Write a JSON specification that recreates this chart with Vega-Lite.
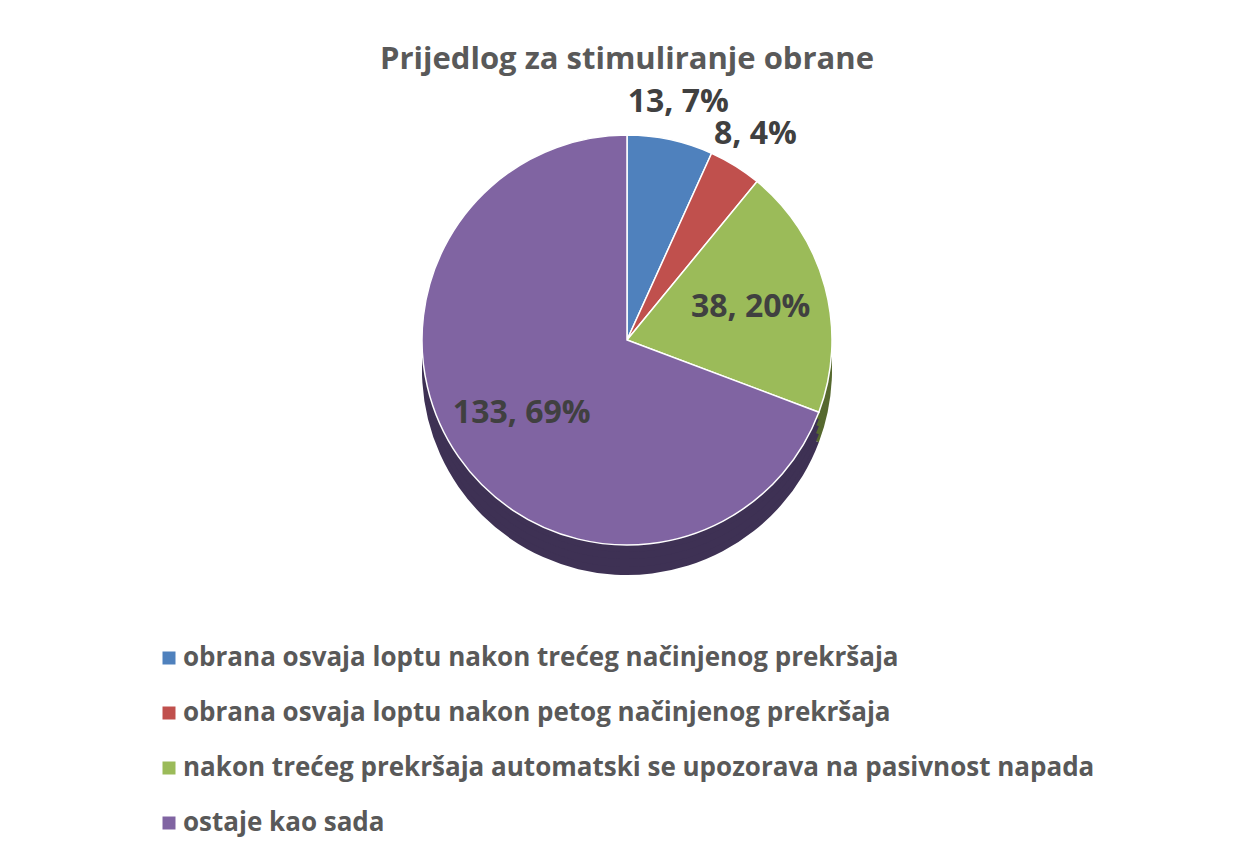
{
  "$schema": "https://vega.github.io/schema/vega-lite/v6.json",
  "width": 1240,
  "height": 660,
  "autosize": {"type": "none"},
  "padding": {"left": 7, "top": 10, "right": 0, "bottom": 183},
  "background": "white",
  "config": {"view": {"stroke": null}, "font": "Open Sans"},
  "title": {
    "text": "Prijedlog za stimuliranje obrane",
    "fontSize": 31,
    "fontWeight": "bold",
    "color": "#595959",
    "font": "Open Sans",
    "anchor": "middle",
    "offset": -66
  },
  "data": {
    "values": [
      {"category": "obrana osvaja loptu nakon trećeg načinjenog prekršaja", "value": 13, "label": "13, 7%", "order": 1},
      {"category": "obrana osvaja loptu nakon petog načinjenog prekršaja", "value": 8, "label": "8, 4%", "order": 2},
      {"category": "nakon trećeg prekršaja automatski se upozorava na pasivnost napada", "value": 38, "label": "38, 20%", "order": 3},
      {"category": "ostaje kao sada", "value": 133, "label": "133, 69%", "order": 4}
    ]
  },
  "encoding": {
    "theta": {"field": "value", "type": "quantitative", "stack": true},
    "order": {"field": "order", "type": "quantitative", "sort": "ascending"}
  },
  "layer": [
    {
      "mark": {"type": "arc", "radius": 205, "yOffset": 30},
      "encoding": {
        "color": {"field": "category", "type": "nominal", "legend": null,
          "scale": {"domain": ["obrana osvaja loptu nakon trećeg načinjenog prekršaja", "obrana osvaja loptu nakon petog načinjenog prekršaja", "nakon trećeg prekršaja automatski se upozorava na pasivnost napada", "ostaje kao sada"],
            "range": ["#2c4a6e", "#6e2d2b", "#56692f", "#3e3154"]}}
      }
    },
    {
      "mark": {"type": "arc", "radius": 205, "yOffset": 22},
      "encoding": {
        "color": {"field": "category", "type": "nominal", "legend": null,
          "scale": {"domain": ["obrana osvaja loptu nakon trećeg načinjenog prekršaja", "obrana osvaja loptu nakon petog načinjenog prekršaja", "nakon trećeg prekršaja automatski se upozorava na pasivnost napada", "ostaje kao sada"],
            "range": ["#2c4a6e", "#6e2d2b", "#56692f", "#3e3154"]}}
      }
    },
    {
      "mark": {"type": "arc", "radius": 205, "yOffset": 14},
      "encoding": {
        "color": {"field": "category", "type": "nominal", "legend": null,
          "scale": {"domain": ["obrana osvaja loptu nakon trećeg načinjenog prekršaja", "obrana osvaja loptu nakon petog načinjenog prekršaja", "nakon trećeg prekršaja automatski se upozorava na pasivnost napada", "ostaje kao sada"],
            "range": ["#2c4a6e", "#6e2d2b", "#56692f", "#3e3154"]}}
      }
    },
    {
      "mark": {"type": "arc", "radius": 205, "yOffset": 7},
      "encoding": {
        "color": {"field": "category", "type": "nominal", "legend": null,
          "scale": {"domain": ["obrana osvaja loptu nakon trećeg načinjenog prekršaja", "obrana osvaja loptu nakon petog načinjenog prekršaja", "nakon trećeg prekršaja automatski se upozorava na pasivnost napada", "ostaje kao sada"],
            "range": ["#2c4a6e", "#6e2d2b", "#56692f", "#3e3154"]}}
      }
    },
    {
      "mark": {"type": "arc", "radius": 205, "stroke": "white", "strokeWidth": 1.5},
      "encoding": {
        "color": {"field": "category", "type": "nominal",
          "scale": {"domain": ["obrana osvaja loptu nakon trećeg načinjenog prekršaja", "obrana osvaja loptu nakon petog načinjenog prekršaja", "nakon trećeg prekršaja automatski se upozorava na pasivnost napada", "ostaje kao sada"],
            "range": ["#4f81bd", "#c0504d", "#9bbb59", "#8064a2"]},
          "legend": {
            "title": null,
            "orient": "none",
            "legendX": 149,
            "legendY": 635,
            "direction": "vertical",
            "symbolType": "square",
            "symbolSize": 169,
            "symbolStrokeWidth": 0,
            "labelFont": "Open Sans",
            "labelFontSize": 26,
            "labelFontWeight": "bold",
            "labelColor": "#595959",
            "labelLimit": 1000,
            "labelOffset": 1,
            "rowPadding": 29,
            "padding": 0
          }
        }
      }
    },
    {
      "mark": {"type": "text", "radius": 243, "fontSize": 32, "fontWeight": "bold", "color": "#404040", "font": "Open Sans"},
      "encoding": {
        "text": {"condition": {"test": "datum.value < 20", "field": "label", "type": "nominal"}, "value": ""}
      }
    },
    {
      "mark": {"type": "text", "radius": 128, "fontSize": 32, "fontWeight": "bold", "color": "#404040", "font": "Open Sans"},
      "encoding": {
        "text": {"condition": {"test": "datum.value >= 20", "field": "label", "type": "nominal"}, "value": ""}
      }
    }
  ],
  "resolve": {"scale": {"color": "independent"}}
}
